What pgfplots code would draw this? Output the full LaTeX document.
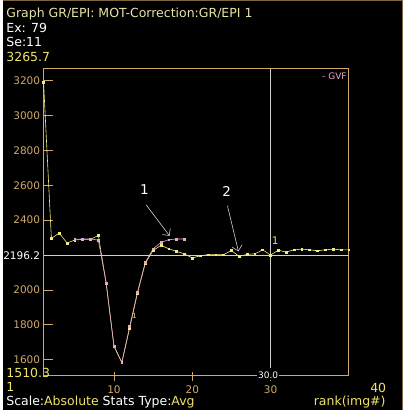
\documentclass[border=0pt]{standalone}
\usepackage{fontspec}
\setmainfont{DejaVu Sans}
\usepackage{pgfplots}
\pgfplotsset{compat=1.18}
\usetikzlibrary{arrows.meta}
\definecolor{tanc}{HTML}{D0A868}
\definecolor{ylw}{HTML}{F0E468}
\definecolor{pale}{HTML}{E8E4A8}
\definecolor{pinkc}{HTML}{E8A8C8}
\definecolor{lgray}{HTML}{D0D0D0}
\definecolor{serY}{HTML}{F0EC80}
\begin{document}
\begin{tikzpicture}
\fill[black] (0,0) rectangle (400pt,-410pt);
\draw[tanc!60!black, line width=1pt] (0,-0.5pt) -- (399.5pt,-0.5pt) -- (399.5pt,-410pt);
\node[anchor=base west, inner sep=0, text=pale, font=\fontsize{12.5}{14}\selectfont] at (3pt,-18pt) {Graph GR/EPI: MOT-Correction:GR/EPI 1};
\node[anchor=base west, inner sep=0, text=white, font=\fontsize{12.5}{14}\selectfont] at (3pt,-33pt) {Ex: 79};
\node[anchor=base west, inner sep=0, text=white, font=\fontsize{12.5}{14}\selectfont] at (3pt,-47pt) {Se:11};
\node[anchor=base west, inner sep=0, text=ylw, font=\fontsize{12.5}{14}\selectfont] at (3pt,-62pt) {3265.7};
\begin{axis}[
  at={(40.4pt,-376pt)}, anchor=south west,
  scale only axis, width=305.6pt, height=307pt,
  xmin=1, xmax=40, ymin=1510.3, ymax=3265.7,
  axis line style={tanc, line width=0.9pt},
  xtick={10,20,30}, ytick={1600,1800,2000,2400,2600,2800,3000,3200},
  tick align=inside, major tick length=9pt,
  xtick pos=bottom, ytick pos=left,
  tick style={tanc, line width=0.9pt},
  x tick style={yshift=-5pt},
  ticklabel style={font=\fontsize{10.5}{12}\selectfont, text=tanc},
  /pgf/number format/assume math mode=true,
  /pgf/number format/1000 sep={},
  scaled ticks=false,
  xticklabel style={yshift=-7pt},
  extra y ticks={2196.2}, extra y tick labels={2196.2},
  extra y tick style={major tick style={ylw, line width=0.9pt}, yticklabel style={text=white}},
  clip=false,
]
\draw[lgray, line width=0.8pt] (axis cs:1,2196.2) -- (axis cs:40,2196.2);
\draw[lgray, line width=0.8pt] (axis cs:30,1555) -- (axis cs:30,3265.7);
\addplot[serY, line width=0.6pt, mark=square*, mark size=0.9pt, mark options={fill=serY, draw=serY}] coordinates {
(1,3190) (2,2295) (3,2326) (4,2269) (5,2286) (6,2290) (7,2290) (8,2312) (9,2040) (10,1677)
(11,1585) (12,1782) (13,1982) (14,2154) (15,2226) (16,2256) (17,2236) (18,2221) (19,2207) (20,2183)
(21,2196) (22,2202) (23,2202) (24,2202) (25,2226) (26,2192) (27,2204) (28,2207) (29,2230) (30,2200)
(31,2228) (32,2217) (33,2230) (34,2234) (35,2230) (36,2225) (37,2230) (38,2234) (39,2230) (40,2230)
};
\addplot[pinkc, line width=0.6pt, mark=square*, mark size=0.9pt, mark options={fill=pinkc, draw=pinkc}] coordinates {
(5,2290) (6,2292) (7,2292) (8,2286) (9,2040) (10,1680) (11,1585) (12,1790) (13,1988) (14,2158)
(15,2236) (16,2272) (17,2288) (18,2292) (19,2292)
};
\node[fill=black, inner sep=1pt, text=white, font=\fontsize{9}{10}\selectfont] at (axis cs:29.7,1510.3) {30.0};
\node[anchor=north east, text=pinkc, font=\fontsize{9}{10}\selectfont, inner sep=2pt] at ([yshift=-2pt]rel axis cs:1,1) {- GVF};
\node[text=ylw!85!tanc, font=\fontsize{10.5}{12}\selectfont] at (axis cs:30.6,2282) {1};
\node[text=ylw, font=\fontsize{7}{8}\selectfont] at (axis cs:12.6,1854) {1};
\node[text=white, font=\fontsize{13.5}{15}\selectfont] at (axis cs:13.9,2574) {1};
\node[text=white, font=\fontsize{13.5}{15}\selectfont] at (axis cs:24.4,2564) {2};
\draw[lgray, line width=0.6pt, -{Straight Barb[length=5pt]}] (axis cs:14.1,2488) -- (axis cs:17.1,2310);
\draw[lgray, line width=0.6pt, -{Straight Barb[length=5pt]}] (axis cs:24.5,2482) -- (axis cs:25.9,2221);
\end{axis}
\node[anchor=base west, inner sep=0, text=ylw, font=\fontsize{12.5}{14}\selectfont] at (3pt,-378pt) {1510.3};
\node[anchor=base west, inner sep=0, text=ylw, font=\fontsize{12.5}{14}\selectfont] at (3pt,-392pt) {1};
\node[anchor=base, inner sep=0, text=ylw, font=\fontsize{12.5}{14}\selectfont] at (375.5pt,-393pt) {40};
\node[anchor=base west, inner sep=0, font=\fontsize{12.5}{14}\selectfont] at (3pt,-406pt) {\textcolor{white}{Scale:}\textcolor{ylw}{Absolute}\ \textcolor{white}{Stats Type:}\textcolor{ylw}{Avg}};
\node[anchor=base east, inner sep=0, text=ylw, font=\fontsize{12.5}{14}\selectfont] at (383pt,-406pt) {rank(img\#)};
\end{tikzpicture}
\end{document}
